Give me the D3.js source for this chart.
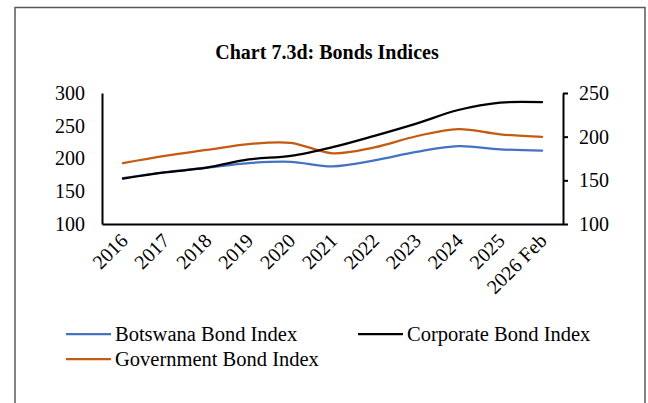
<!DOCTYPE html>
<html>
<head>
<meta charset="utf-8">
<script src="https://cdn.jsdelivr.net/npm/d3@7"></script>
<style>
  html, body { margin: 0; padding: 0; background: #fff; }
  svg { display: block; }
  text { font-family: "Liberation Serif", "Times New Roman", serif; fill: #000; }
</style>
</head>
<body>
<svg id="chart" width="648" height="403"></svg>
<script>
// Bond index levels, annual points plus latest month
const categories = ["2016", "2017", "2018", "2019", "2020", "2021", "2022", "2023", "2024", "2025", "2026 Feb"];
const botswanaBondIndex   = [170, 179, 186, 193, 195, 188, 197, 210, 219, 214, 212];
const governmentBondIndex = [193, 204, 213, 222, 224, 208, 217, 234, 245, 237, 233];
const corporateBondIndex  = [152, 159, 164.5, 174, 178, 188, 201, 215, 230.5, 239, 239.5]; // secondary axis
const leftTicks  = [100, 150, 200, 250, 300];
const rightTicks = [100, 150, 200, 250];
const title = "Chart 7.3d: Bonds Indices";

const svg = d3.select("#chart");
const plot = { left: 102, right: 563, top: 93, bottom: 224 };

// outer frame
svg.append("rect")
  .attr("x", 15).attr("y", 7.5)
  .attr("width", 630).attr("height", 420)
  .attr("fill", "none").attr("stroke", "#595959").attr("stroke-width", 1.5);

svg.append("text")
  .attr("x", 327).attr("y", 59)
  .attr("text-anchor", "middle")
  .attr("font-size", 20).attr("font-weight", "bold")
  .text(title);

const x = d3.scaleBand().domain(categories).range([plot.left, plot.right]).padding(0);
const xc = d => x(d) + x.bandwidth() / 2;
const yL = d3.scaleLinear().domain([100, 300]).range([plot.bottom, plot.top]);
const yR = d3.scaleLinear().domain([100, 250]).range([plot.bottom, plot.top]);

// left axis
const gL = svg.append("g").attr("transform", `translate(${plot.left},0)`)
  .call(d3.axisLeft(yL).tickValues(leftTicks).tickSize(0).tickPadding(17));
gL.select(".domain").attr("stroke", "#000").attr("stroke-width", 2);
gL.selectAll("text").attr("font-size", 20).attr("font-family", "Liberation Serif");

// right axis
const gR = svg.append("g").attr("transform", `translate(${plot.right},0)`)
  .call(d3.axisRight(yR).tickValues(rightTicks).tickSize(5).tickSizeOuter(0).tickPadding(11));
gR.select(".domain").attr("stroke", "#000").attr("stroke-width", 2);
gR.selectAll(".tick line").attr("stroke", "#000").attr("stroke-width", 2);
gR.selectAll("text").attr("font-size", 20).attr("font-family", "Liberation Serif");

// category axis
const gX = svg.append("g").attr("transform", `translate(0,${plot.bottom})`)
  .call(d3.axisBottom(x).tickSize(0).tickSizeOuter(0).tickPadding(0));
gX.select(".domain").attr("stroke", "#000").attr("stroke-width", 2);
gX.selectAll("text")
  .attr("font-size", 20).attr("font-family", "Liberation Serif")
  .attr("text-anchor", "end")
  .attr("dy", "0")
  .attr("transform", "translate(6,18) rotate(-45)");

// series
const series = [
  { values: botswanaBondIndex, scale: yL, color: "#4472C4" },
  { values: governmentBondIndex, scale: yL, color: "#C55A11" },
  { values: corporateBondIndex, scale: yR, color: "#000000" }
];
series.forEach(s => {
  const line = d3.line()
    .x((d, i) => xc(categories[i]))
    .y(d => s.scale(d))
    .curve(d3.curveCatmullRom.alpha(0.5));
  svg.append("path")
    .datum(s.values)
    .attr("d", line)
    .attr("fill", "none")
    .attr("stroke", s.color)
    .attr("stroke-width", 2.25)
    .attr("stroke-linecap", "round");
});

// legend
const legend = [
  { name: "Botswana Bond Index", color: "#4472C4", x: 66, y: 334 },
  { name: "Corporate Bond Index", color: "#000000", x: 358, y: 334 },
  { name: "Government Bond Index", color: "#C55A11", x: 66, y: 359 }
];
legend.forEach(l => {
  svg.append("line")
    .attr("x1", l.x).attr("x2", l.x + 45)
    .attr("y1", l.y).attr("y2", l.y)
    .attr("stroke", l.color).attr("stroke-width", 2.25);
  svg.append("text")
    .attr("x", l.x + 49).attr("y", l.y + 7)
    .attr("font-size", 20.5)
    .text(l.name);
});
</script>
</body>
</html>
